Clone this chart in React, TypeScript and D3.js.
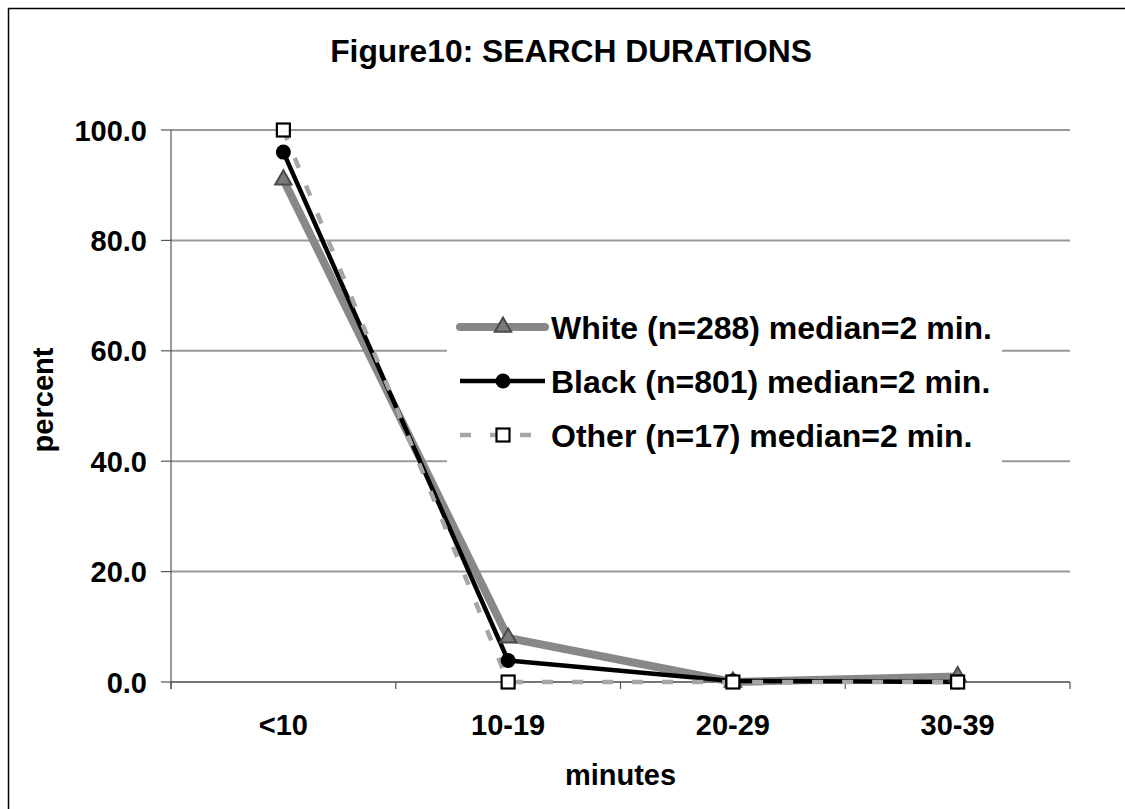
import React from "react";
import * as d3 from "d3";

const categories = ["<10", "10-19", "20-29", "30-39"];
const whiteValues = [91.0, 8.0, 0.0, 1.0];
const blackValues = [96.0, 3.9, 0.2, 0.0];
const otherValues = [100.0, 0.0, 0.0, 0.0];
const yTicks = [0, 20, 40, 60, 80, 100];
const seriesNames = [
  "White (n=288) median=2 min.",
  "Black (n=801) median=2 min.",
  "Other (n=17) median=2 min.",
];

const FONT = "Arial, 'Liberation Sans', Helvetica, sans-serif";

export default function App() {
  const W = 1125;
  const H = 809;
  const left = 171;
  const right = 1070;
  const top = 130;
  const bottom = 682;

  const x = d3.scalePoint<string>().domain(categories).range([left, right]).padding(0.5);
  const band = d3.scaleBand<string>().domain(categories).range([left, right]);
  const y = d3.scaleLinear().domain([0, 100]).range([bottom, top]);

  const line = d3
    .line<number>()
    .x((_, i) => x(categories[i]) as number)
    .y((d) => y(d));

  const tickXs = [...categories.map((c) => band(c) as number), right];

  const tri = d3.symbol().type(d3.symbolTriangle).size(115)();

  const legendY = [327, 381, 435];
  const legX0 = 460;
  const legX1 = 545;
  const legMid = 503;

  return (
    <svg
      width={W}
      height={H}
      style={{ position: "absolute", left: 0, top: 0, background: "#fff" }}
      fontFamily={FONT}
      fontWeight="bold"
    >
      <rect x={0} y={0} width={W} height={H} fill="#fff" />
      <rect x={8.5} y={8.5} width={W + 20} height={H + 20} fill="none" stroke="#000" strokeWidth={1.5} />

      {/* Title */}
      <text x={571} y={62} textAnchor="middle" fontSize={31.8} fill="#000">
        Figure10: SEARCH DURATIONS
      </text>

      {/* Gridlines */}
      {yTicks.map((t) => (
        <line key={"g" + t} x1={left} x2={right} y1={y(t)} y2={y(t)} stroke="#999" strokeWidth={2} />
      ))}

      {/* Y axis */}
      <line x1={left} x2={left} y1={top} y2={bottom + 7} stroke="#555" strokeWidth={1.2} />
      {yTicks.map((t) => (
        <g key={"yt" + t}>
          <line x1={left - 10} x2={left} y1={y(t)} y2={y(t)} stroke="#555" strokeWidth={1.2} />
          <text x={147} y={y(t) + 10.5} textAnchor="end" fontSize={29} fill="#000">
            {t.toFixed(1)}
          </text>
        </g>
      ))}

      {/* X axis */}
      <line x1={left} x2={right} y1={bottom} y2={bottom} stroke="#555" strokeWidth={1.2} />
      {tickXs.map((tx, i) => (
        <line key={"xt" + i} x1={tx} x2={tx} y1={bottom} y2={bottom + 7} stroke="#555" strokeWidth={1.2} />
      ))}
      {categories.map((c) => (
        <text key={"xl" + c} x={x(c) as number} y={735} textAnchor="middle" fontSize={29} fill="#000">
          {c}
        </text>
      ))}

      {/* Axis titles */}
      <text x={(left + right) / 2} y={785} textAnchor="middle" fontSize={29} fill="#000">
        minutes
      </text>
      <text
        transform={`translate(53, 400) rotate(-90)`}
        textAnchor="middle"
        fontSize={29}
        fill="#000"
      >
        percent
      </text>

      {/* Legend background */}
      <rect x={447} y={292} width={555} height={178} fill="#fff" />

      {/* Series: White */}
      <path d={line(whiteValues) as string} fill="none" stroke="#888" strokeWidth={8} strokeLinejoin="round" />
      {/* Series: Black */}
      <path d={line(blackValues) as string} fill="none" stroke="#000" strokeWidth={4.5} strokeLinejoin="round" />
      {/* Series: Other */}
      <path
        d={line(otherValues) as string}
        fill="none"
        stroke="#a6a6a6"
        strokeWidth={4.5}
        strokeDasharray="11,19"
      />

      {whiteValues.map((v, i) => (
        <path
          key={"wm" + i}
          d={tri as string}
          transform={`translate(${x(categories[i])},${y(v)})`}
          fill="#7a7a7a"
          stroke="#4a4a4a"
          strokeWidth={2}
        />
      ))}
      {blackValues.map((v, i) => (
        <circle key={"bm" + i} cx={x(categories[i]) as number} cy={y(v)} r={7.5} fill="#000" />
      ))}
      {otherValues.map((v, i) => (
        <rect
          key={"om" + i}
          x={(x(categories[i]) as number) - 6.5}
          y={y(v) - 6.5}
          width={13}
          height={13}
          fill="#fff"
          stroke="#000"
          strokeWidth={2.2}
        />
      ))}

      {/* Legend */}
      <line x1={legX0} x2={legX1} y1={legendY[0]} y2={legendY[0]} stroke="#888" strokeWidth={8} strokeLinecap="round" />
      <path d={tri as string} transform={`translate(${legMid},${legendY[0]})`} fill="#7a7a7a" stroke="#4a4a4a" strokeWidth={2} />
      <line x1={legX0} x2={legX1} y1={legendY[1]} y2={legendY[1]} stroke="#000" strokeWidth={4.5} />
      <circle cx={legMid} cy={legendY[1]} r={7.5} fill="#000" />
      <line
        x1={legX0}
        x2={legX1}
        y1={legendY[2]}
        y2={legendY[2]}
        stroke="#a6a6a6"
        strokeWidth={4.5}
        strokeDasharray="11,19"
      />
      <rect x={legMid - 6.5} y={legendY[2] - 6.5} width={13} height={13} fill="#fff" stroke="#000" strokeWidth={2.2} />
      {seriesNames.map((s, i) => (
        <text key={"lg" + i} x={551} y={legendY[i] + 11.5} fontSize={32} fill="#000">
          {s}
        </text>
      ))}
    </svg>
  );
}
